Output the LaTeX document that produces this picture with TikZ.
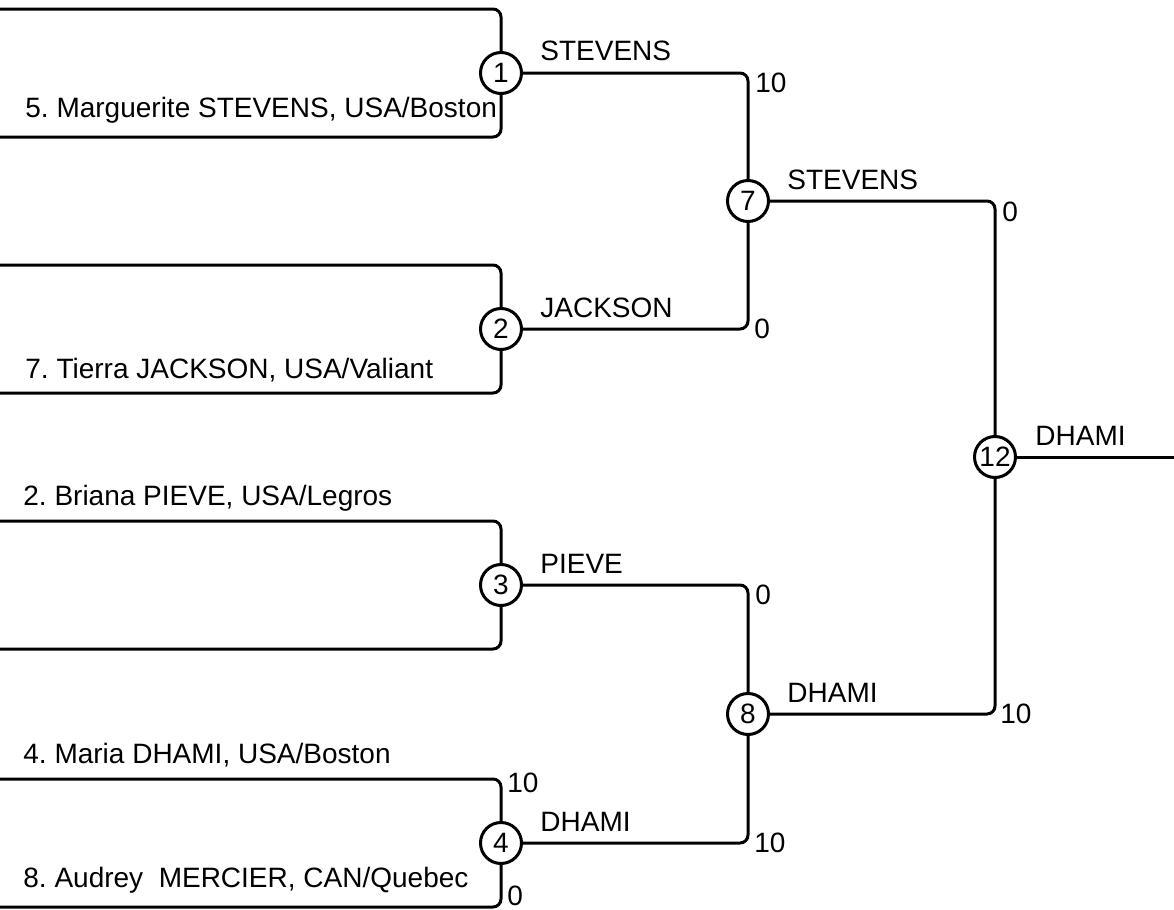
\documentclass[tikz,border=0pt]{standalone}
\usepackage{fontspec}
\setmainfont{Liberation Sans}
\frenchspacing
\usetikzlibrary{positioning}

\begin{document}
\begin{tikzpicture}[
    x=0.5pt, y=-0.5pt,
    match/.style={circle, draw, fill=white, line width=1.5pt, minimum size=20.5pt,
                  inner sep=0pt, font=\fontsize{14}{16}\selectfont},
    bracket/.style={line width=1.5pt, rounded corners=4pt},
    player/.style={anchor=base west, inner sep=0pt, font=\fontsize{14}{16}\selectfont},
    winner/.style={anchor=base west, inner sep=0pt, font=\fontsize{14}{16}\selectfont},
    score/.style={anchor=west, inner sep=0pt, font=\fontsize{14}{16}\selectfont}
]
    \useasboundingbox (0,0) rectangle (1174,910);

    % left ends of the first round
    \coordinate (a1) at (0,9);   \coordinate (b1) at (0,137);
    \coordinate (a2) at (0,265); \coordinate (b2) at (0,393);
    \coordinate (a3) at (0,521); \coordinate (b3) at (0,649);
    \coordinate (a4) at (0,779); \coordinate (b4) at (0,907);
    \coordinate (fin) at (1174,457);

    % matches
    \node[match] (m1) at (501,73) {1};
    \node[match] (m2) at (501,329) {2};
    \node[match] (m3) at (501,585) {3};
    \node[match] (m4) at (501,843) {4};
    \node[match] (m7) at (748,201) {7};
    \node[match] (m8) at (748,714) {8};
    \node[match] (m12) at (995,457) {12};

    % first round brackets
    \draw[bracket] (m1.north) |- (a1);
    \draw[bracket] (m1.south) |- (b1);
    \draw[bracket] (m2.north) |- (a2);
    \draw[bracket] (m2.south) |- (b2);
    \draw[bracket] (m3.north) |- (a3);
    \draw[bracket] (m3.south) |- (b3);
    \draw[bracket] (m4.north) |- (a4);
    \draw[bracket] (m4.south) |- (b4);

    % later rounds
    \draw[bracket] (m1.east) -| (m7.north);
    \draw[bracket] (m2.east) -| (m7.south);
    \draw[bracket] (m3.east) -| (m8.north);
    \draw[bracket] (m4.east) -| (m8.south);
    \draw[bracket] (m7.east) -| (m12.north);
    \draw[bracket] (m8.east) -| (m12.south);
    \draw[bracket] (m12.east) -- (fin);

    % players
    \node[player] (p5) at (25,117) {5. Marguerite STEVENS, USA/Boston};
    \node[player] (p7) at (25,378) {7. Tierra JACKSON, USA/Valiant};
    \node[player] (p2) at (23,505) {2. Briana PIEVE, USA/Legros};
    \node[player] (p4) at (23,763) {4. Maria DHAMI, USA/Boston};
    \node[player] (p8) at (23,887) {8. Audrey\ \ MERCIER, CAN/Quebec};

    % winners
    \node[winner] (w1) at (540,61) {STEVENS};
    \node[winner] (w2) at (540,317) {JACKSON};
    \node[winner] (w3) at (540,573) {PIEVE};
    \node[winner] (w4) at (540,831) {DHAMI};
    \node[winner] (w7) at (787,189) {STEVENS};
    \node[winner] (w8) at (787,702) {DHAMI};
    \node[winner] (w12) at (1035,445) {DHAMI};

    % scores
    \node[score] (s4a) at (507,783) {10};
    \node[score] (s4b) at (507,896) {0};
    \node[score] (s7a) at (755,83) {10};
    \node[score] (s7b) at (754,329) {0};
    \node[score] (s8a) at (755,595) {0};
    \node[score] (s8b) at (754,843) {10};
    \node[score] (s12a) at (1002,212) {0};
    \node[score] (s12b) at (1000,714) {10};
\end{tikzpicture}
\end{document}
